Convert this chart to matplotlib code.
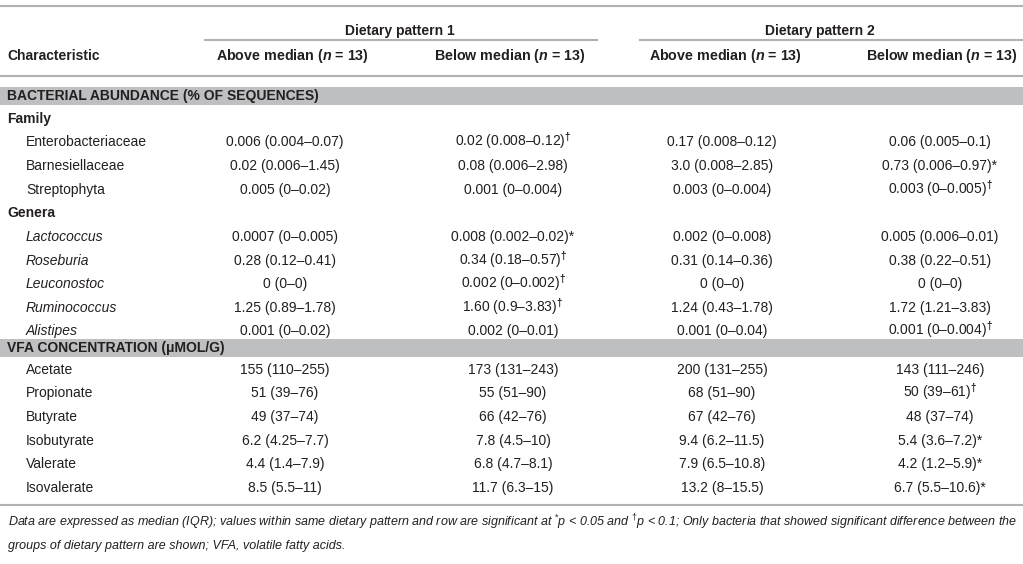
import matplotlib
matplotlib.use("Agg")
import matplotlib.pyplot as plt

plt.rcParams['font.family'] = ['Liberation Sans', 'DejaVu Sans']
plt.rcParams['mathtext.fontset'] = 'custom'
plt.rcParams['mathtext.rm'] = 'Liberation Sans'
plt.rcParams['mathtext.it'] = 'Liberation Sans:italic'
plt.rcParams['mathtext.bf'] = 'Liberation Sans:bold'
plt.rcParams['mathtext.bfit'] = 'Liberation Sans:italic:bold'

### Table content ###
groups = ["Dietary pattern 1", "Dietary pattern 2"]
col_heads = ["Above median", "Below median", "Above median", "Below median"]
n_per_group = 13

section1 = "BACTERIAL ABUNDANCE (% OF SEQUENCES)"
section2 = "VFA CONCENTRATION (μMOL/G)"

family_names = ["Enterobacteriaceae", "Barnesiellaceae", "Streptophyta"]
genera_names = ["Lactococcus", "Roseburia", "Leuconostoc", "Ruminococcus", "Alistipes"]
vfa_names = ["Acetate", "Propionate", "Butyrate", "Isobutyrate", "Valerate", "Isovalerate"]

# median (IQR) per column, rows in the same order as the names above
dp1_above = ["0.006 (0.004–0.07)", "0.02 (0.006–1.45)", "0.005 (0–0.02)",
             "0.0007 (0–0.005)", "0.28 (0.12–0.41)", "0 (0–0)", "1.25 (0.89–1.78)", "0.001 (0–0.02)",
             "155 (110–255)", "51 (39–76)", "49 (37–74)", "6.2 (4.25–7.7)", "4.4 (1.4–7.9)", "8.5 (5.5–11)"]
dp1_below = ["0.02 (0.008–0.12)", "0.08 (0.006–2.98)", "0.001 (0–0.004)",
             "0.008 (0.002–0.02)", "0.34 (0.18–0.57)", "0.002 (0–0.002)", "1.60 (0.9–3.83)", "0.002 (0–0.01)",
             "173 (131–243)", "55 (51–90)", "66 (42–76)", "7.8 (4.5–10)", "6.8 (4.7–8.1)", "11.7 (6.3–15)"]
dp2_above = ["0.17 (0.008–0.12)", "3.0 (0.008–2.85)", "0.003 (0–0.004)",
             "0.002 (0–0.008)", "0.31 (0.14–0.36)", "0 (0–0)", "1.24 (0.43–1.78)", "0.001 (0–0.04)",
             "200 (131–255)", "68 (51–90)", "67 (42–76)", "9.4 (6.2–11.5)", "7.9 (6.5–10.8)", "13.2 (8–15.5)"]
dp2_below = ["0.06 (0.005–0.1)", "0.73 (0.006–0.97)", "0.003 (0–0.005)",
             "0.005 (0.006–0.01)", "0.38 (0.22–0.51)", "0 (0–0)", "1.72 (1.21–3.83)", "0.001 (0–0.004)",
             "143 (111–246)", "50 (39–61)", "48 (37–74)", "5.4 (3.6–7.2)", "4.2 (1.2–5.9)", "6.7 (5.5–10.6)"]

# significance marks: "d" = dagger (p < 0.1), "s" = star (p < 0.05)
dp1_below_sig = ["d", "", "", "s", "d", "d", "d", "", "", "", "", "", "", ""]
dp2_below_sig = ["", "s", "d", "", "", "", "", "d", "", "d", "", "s", "s", "s"]

footnote = ["Data are expressed as median (IQR); values within same dietary pattern and row are significant at "
            "$^{*}$$p$ < 0.05 and $^{\\dagger}$$p$ < 0.1; Only bacteria that showed significant difference between the",
            "groups of dietary pattern are shown; VFA, volatile fatty acids."]

### Layout (pixels) ###
W, H = 1023, 564
head_x = [292, 510, 725, 942]
col_x = [285, 513, 722, 940]
line_c = "#b1b1b1"
band_c = "#bdbfc1"
txt_c = "#231f20"
fs = 10

fig = plt.figure(figsize=(W / 100, H / 100), dpi=100)
ax = fig.add_axes([0, 0, 1, 1])
ax.set_xlim(0, W)
ax.set_ylim(H, 0)
ax.axis("off")


def put(x, y, s, **kw):
    kw.setdefault("ha", "left")
    kw.setdefault("fontsize", fs)
    kw.setdefault("color", txt_c)
    ax.text(x, y + 4, s, va="baseline", **kw)


def sig_text(val, mark):
    if mark == "d":
        return val + r"$^{\mathbf{†}}$"
    if mark == "s":
        return val + "*"
    return val


# rules
ax.plot([0, W], [6, 6], color=line_c, lw=1.5)
ax.plot([205, 597], [40, 40], color=line_c, lw=1.5)
ax.plot([640, W], [40, 40], color=line_c, lw=1.5)
ax.plot([0, W], [76, 76], color=line_c, lw=1.5)
ax.plot([0, W], [505, 505], color=line_c, lw=1.5)

# group headers
put(400, 31, groups[0], ha="center", fontweight="bold")
put(820, 31, groups[1], ha="center", fontweight="bold")
put(7, 56, "Characteristic", fontweight="bold")
for x, h in zip(head_x, col_heads):
    put(x, 56, h + r" ($\mathbfit{n}$ = %d)" % n_per_group, ha="center", fontweight="bold", fontsize=10.3)

# section bands
for (y0, y1), label in [((87, 105), section1), ((339, 357), section2)]:
    ax.fill_between([0, W], y0, y1, color=band_c, lw=0)
    put(7, (y0 + y1) / 2, label, fontweight="bold")

put(7, 119, "Family", fontweight="bold")
put(7, 213, "Genera", fontweight="bold")

row_y = [142, 166, 190, 237, 261, 284, 308, 331, 370, 393, 417, 441, 464, 488]
row_names = family_names + genera_names + vfa_names
italic_rows = set(genera_names)

for i, (y, name) in enumerate(zip(row_y, row_names)):
    style = "italic" if name in italic_rows else "normal"
    put(26, y, name, fontstyle=style)
    put(col_x[0], y, dp1_above[i], ha="center")
    put(col_x[1], y, sig_text(dp1_below[i], dp1_below_sig[i]), ha="center")
    put(col_x[2], y, dp2_above[i], ha="center")
    put(col_x[3], y, sig_text(dp2_below[i], dp2_below_sig[i]), ha="center")

# footnote
put(8, 522, footnote[0], fontstyle="italic", fontsize=9)
put(8, 545, footnote[1], fontstyle="italic", fontsize=9)

fig.savefig("out.png", dpi=100)
